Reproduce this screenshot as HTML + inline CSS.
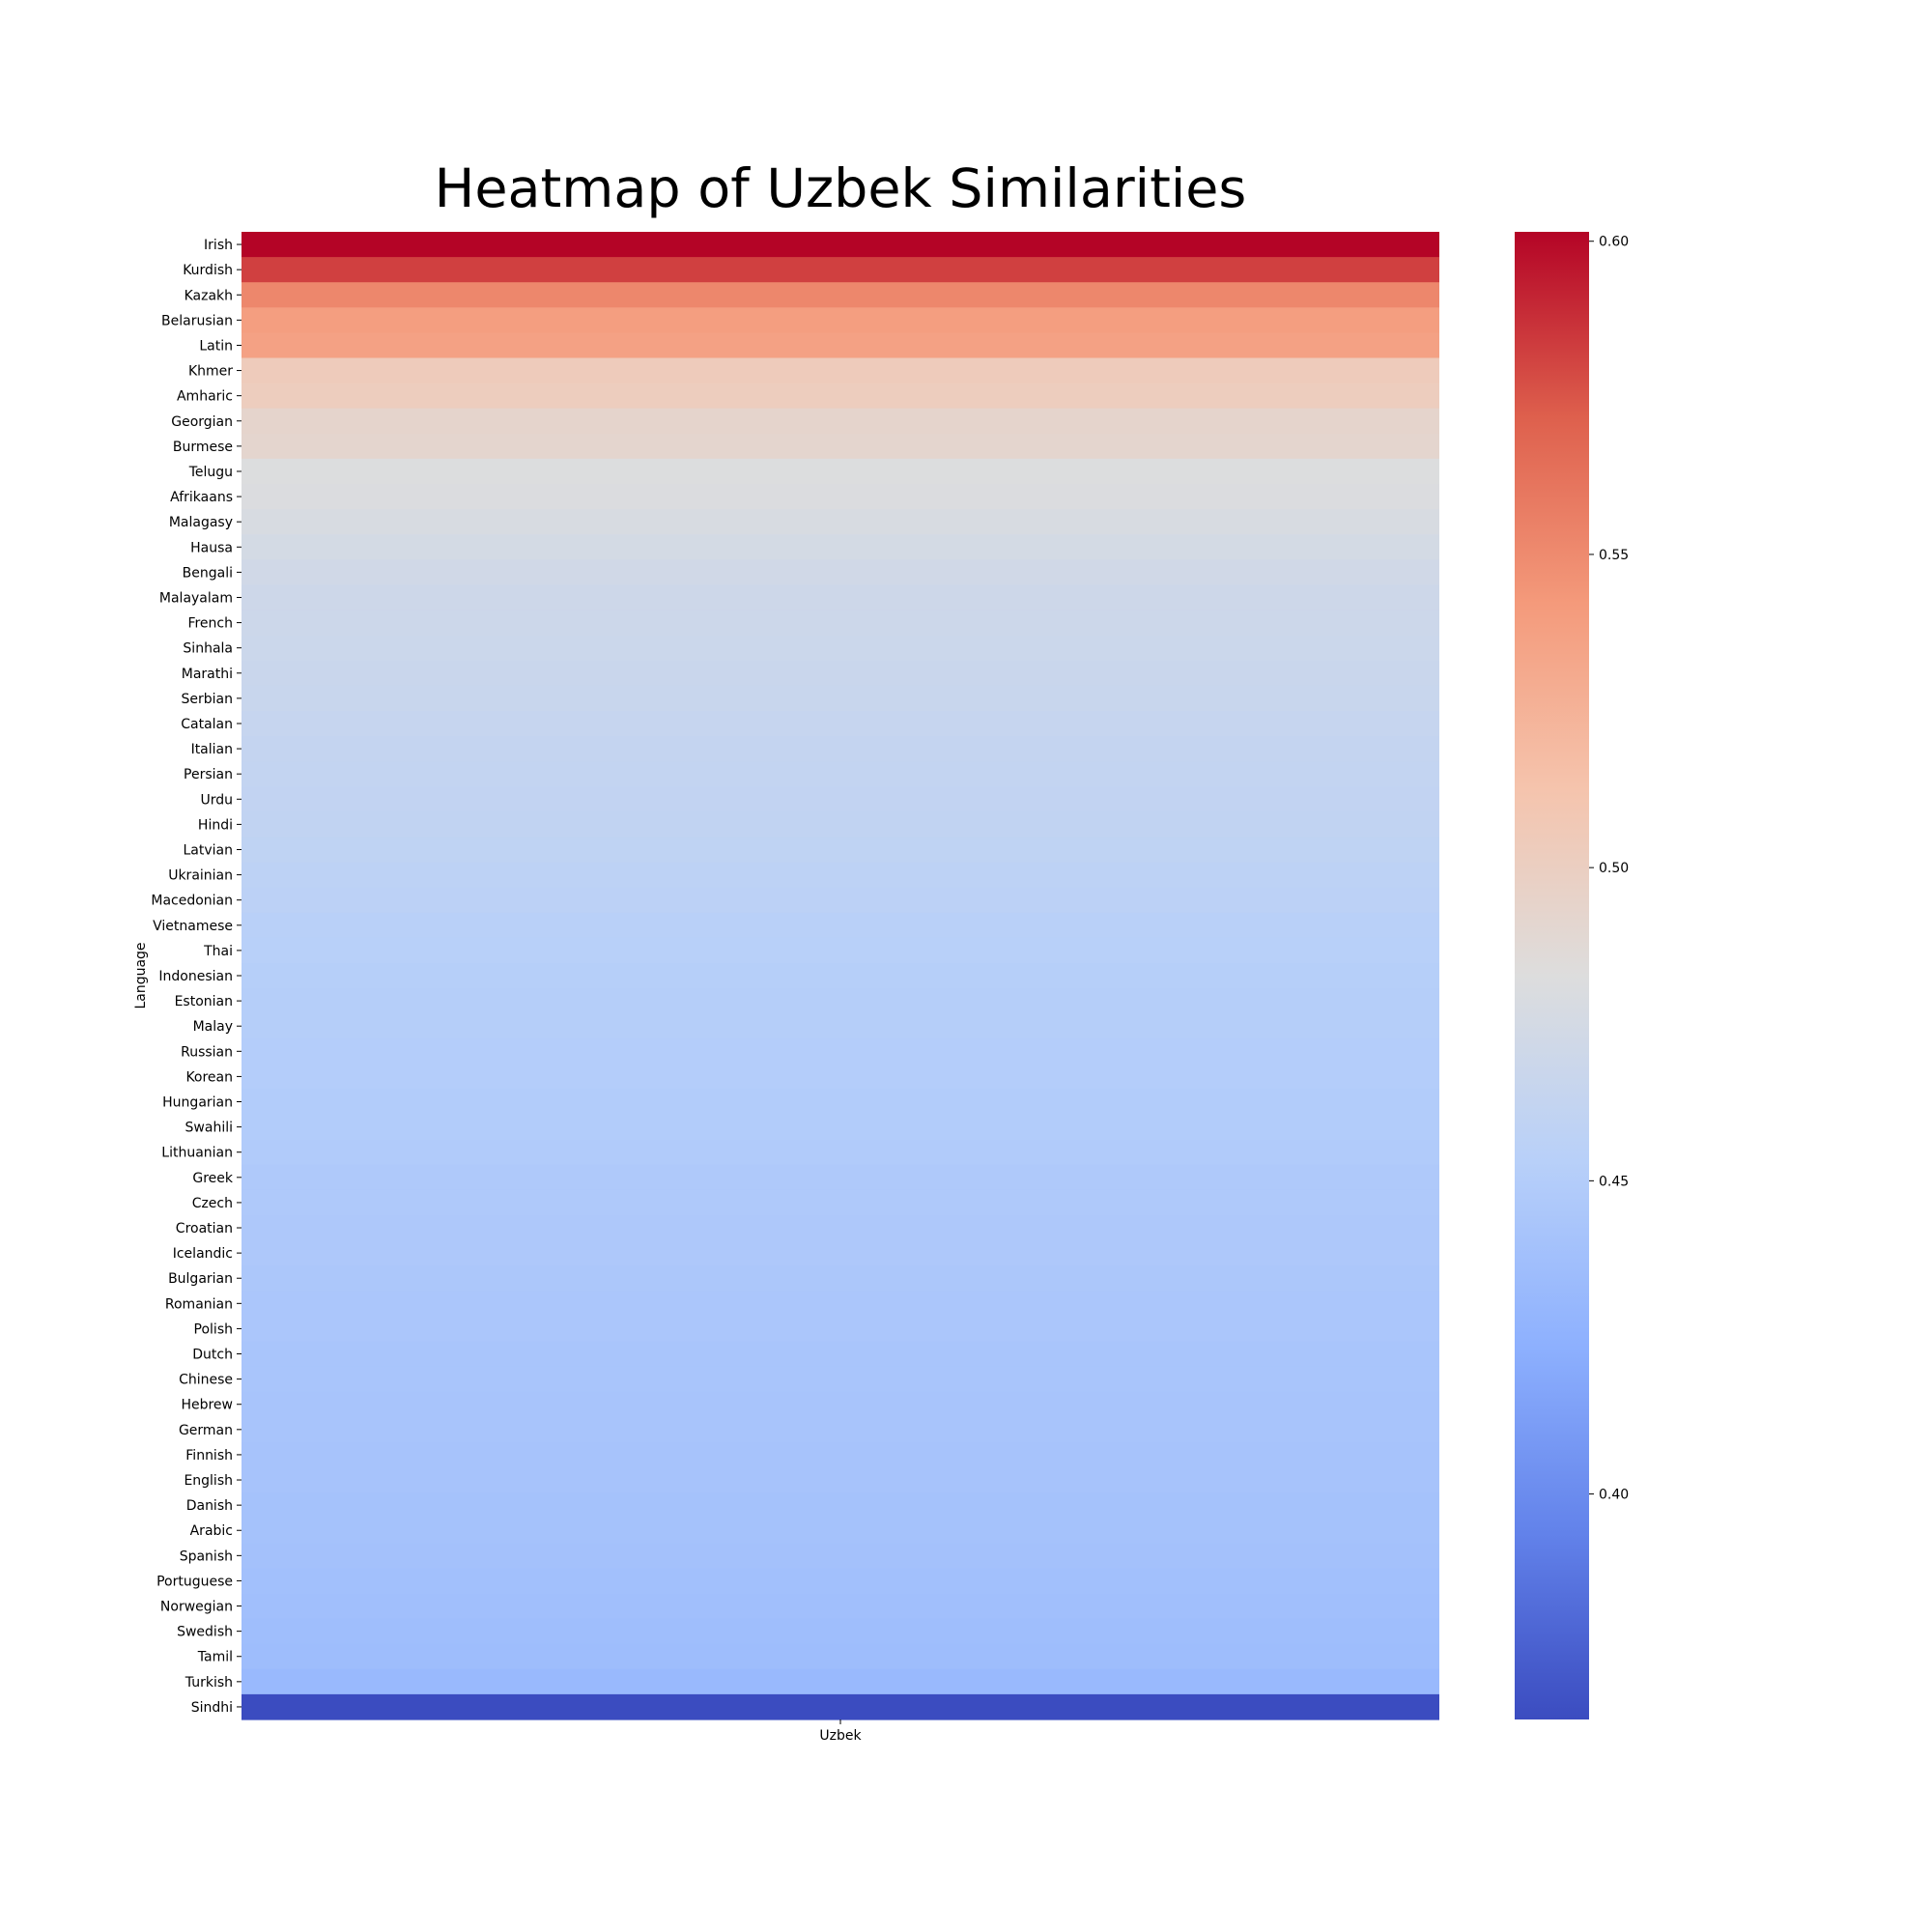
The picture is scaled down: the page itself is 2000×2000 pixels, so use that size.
<!DOCTYPE html>
<html><head><meta charset="utf-8"><style>
html,body{margin:0;padding:0;background:#fff}
svg{display:block;font-family:"DejaVu Sans","Liberation Sans",sans-serif}
</style></head><body>
<svg id="chart" width="2000" height="2000" viewBox="0 0 2000 2000">
<defs><linearGradient id="cbg" x1="0" y1="1" x2="0" y2="0"></linearGradient></defs>
<text x="870" y="214" font-size="55.5" text-anchor="middle" fill="#000">Heatmap of Uzbek Similarities</text>
<g id="cells"></g><g id="yticks"></g><g id="cbar"></g>
<line x1="870" x2="870" y1="1780" y2="1785" stroke="#000" stroke-width="1"/>
<text x="870" y="1801" font-size="14" text-anchor="middle">Uzbek</text>
<text transform="translate(150,1010) rotate(-90)" font-size="14" text-anchor="middle">Language</text>
</svg>
<script>
const languages=["Irish","Kurdish","Kazakh","Belarusian","Latin","Khmer","Amharic","Georgian","Burmese","Telugu","Afrikaans","Malagasy","Hausa","Bengali","Malayalam","French","Sinhala","Marathi","Serbian","Catalan","Italian","Persian","Urdu","Hindi","Latvian","Ukrainian","Macedonian","Vietnamese","Thai","Indonesian","Estonian","Malay","Russian","Korean","Hungarian","Swahili","Lithuanian","Greek","Czech","Croatian","Icelandic","Bulgarian","Romanian","Polish","Dutch","Chinese","Hebrew","German","Finnish","English","Danish","Arabic","Spanish","Portuguese","Norwegian","Swedish","Tamil","Turkish","Sindhi"];
const similarity=[0.6015,0.582,0.552,0.539,0.537,0.504,0.502,0.493,0.492,0.482,0.481,0.478,0.475,0.472,0.470,0.469,0.468,0.467,0.466,0.464,0.463,0.462,0.461,0.460,0.459,0.457,0.456,0.454,0.453,0.452,0.451,0.451,0.450,0.450,0.449,0.449,0.448,0.447,0.447,0.446,0.446,0.445,0.444,0.444,0.443,0.443,0.442,0.442,0.441,0.441,0.440,0.440,0.439,0.438,0.437,0.436,0.435,0.432,0.364];
const cbTicks=[0.40,0.45,0.50,0.55,0.60];
const vmin=0.364,vmax=0.6015;
const NS="http://www.w3.org/2000/svg";
const L=250,R=1490,T=240,B=1780,CL=1568,CR=1645;
const rowH=(B-T)/languages.length;
function yBand(i){return T+i*rowH;}
function cbY(v){return B-(v-vmin)/(vmax-vmin)*(B-T);}
const cmap=[[59,76,192],[98,130,234],[141,176,254],[184,208,249],[221,221,221],[245,196,173],[244,154,123],[222,96,77],[180,4,38]];
function color(v){let t=Math.max(0,Math.min(1,(v-vmin)/(vmax-vmin)))*8;let i=Math.min(7,Math.floor(t)),f=t-i;const a=cmap[i],b=cmap[i+1];return "rgb("+a.map((c,k)=>Math.round(c+(b[k]-c)*f)).join(",")+")";}
function mk(tag,attrs,parent){const e=document.createElementNS(NS,tag);for(const k in attrs)e.setAttribute(k,attrs[k]);parent.appendChild(e);return e;}
const cells=document.getElementById('cells'),yt=document.getElementById('yticks'),cb=document.getElementById('cbar');
languages.forEach((lang,i)=>{
  const r=mk('rect',{x:L,y:yBand(i),width:R-L,height:rowH+0.6,fill:color(similarity[i])},cells);
  
  
  const yc=yBand(i)+rowH/2;
  const tk=mk('line',{x1:L-5,x2:L,y1:yc,y2:yc,stroke:'#000','stroke-width':1},yt);
  
  
  const tx=mk('text',{x:L-9,y:yc+5,'font-size':14,'text-anchor':'end'},yt);
  tx.textContent=lang;
  
  
});
const grad=document.getElementById('cbg');
for(let k=0;k<=8;k++){mk('stop',{offset:(k/8),'stop-color':'rgb('+cmap[k].join(',')+')'},grad);}
const cr=mk('rect',{x:CL,y:T,width:CR-CL,height:B-T,fill:'url(#cbg)'},cb);


cbTicks.forEach(v=>{
  const y=cbY(v);
  const l=mk('line',{x1:CR,x2:CR+5,y1:y,y2:y,stroke:'#000','stroke-width':1},cb);
  
  
  const t=mk('text',{x:CR+10,y:y+5,'font-size':14},cb);
  t.textContent=v.toFixed(2);
  
  
});
</script>
</body></html>
